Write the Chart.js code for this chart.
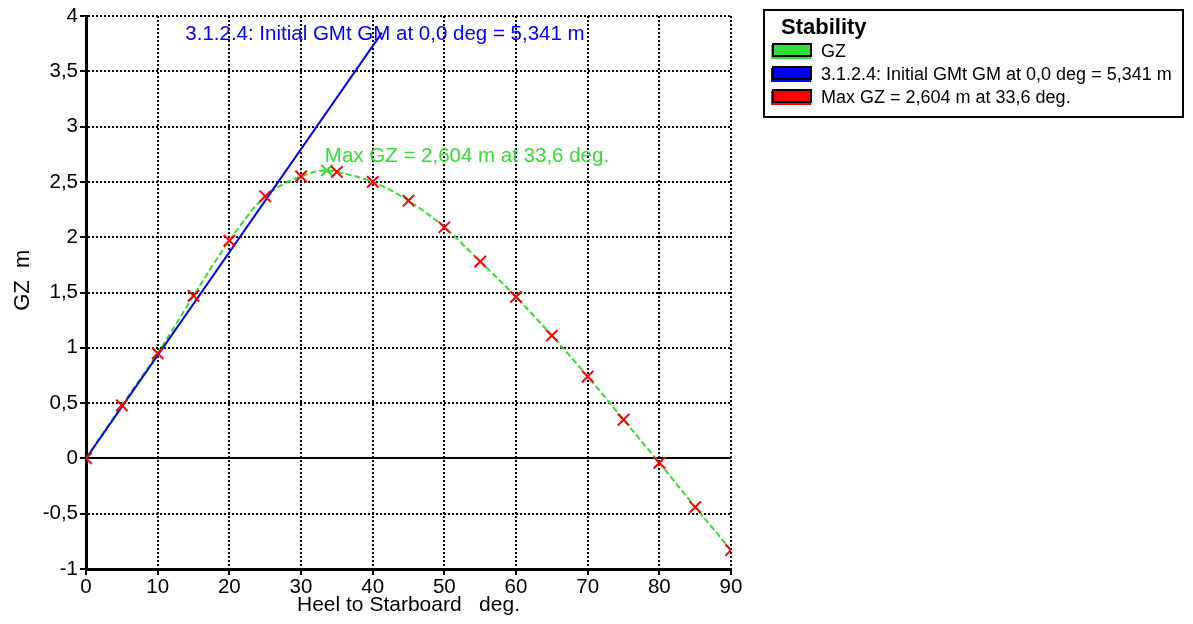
<!DOCTYPE html>
<html>
<head>
<meta charset="utf-8">
<script src="https://cdn.jsdelivr.net/npm/chart.js@4.4.0/dist/chart.umd.min.js"></script>
<style>
html, body { margin: 0; padding: 0; background: #fff; }
</style>
</head>
<body>
<canvas id="myChart" width="1193" height="624"></canvas>
<script>
const heel = [0, 5, 10, 15, 20, 25, 30, 35, 40, 45, 50, 55, 60, 65, 70, 75, 80, 85, 90];
const gz = [0, 0.48, 0.95, 1.47, 1.97, 2.37, 2.55, 2.59, 2.50, 2.33, 2.09, 1.78, 1.46, 1.11, 0.74, 0.35, -0.04, -0.44, -0.83];

// max GZ point
const maxHeel = 33.6;
const maxGZ = 2.604;

// initial GM tangent line (GM = 5,341 m per radian)
const gmX = [0, 41.3];
const gmY = [0, 3.85];

const gmLabel = '3.1.2.4: Initial GMt GM at 0,0 deg = 5,341 m';
const maxLabel = 'Max GZ = 2,604 m at 33,6 deg.';

const legendTitle = 'Stability';
const legendLabels = ['GZ', gmLabel, maxLabel];
const legendColors = ['#33dd33', '#0000ff', '#ff0000'];

const GREEN = '#33dd33';
const BLUE = '#0000ff';
const RED = '#ff0000';

Chart.defaults.font.family = "'Liberation Sans', Arial, sans-serif";
Chart.defaults.color = '#000';

// GZ curve also passes through the max point
const curve = heel.map((h, i) => ({x: h, y: gz[i]}));
curve.push({x: maxHeel, y: maxGZ});
curve.sort((a, b) => a.x - b.x);

const comma = v => String(v).replace('.', ',');

// text labels on the plot + the boxed legend
const labelsPlugin = {
  id: 'labels',
  afterDatasetsDraw(chart) {
    const ctx = chart.ctx;
    const xs = chart.scales.x, ys = chart.scales.y;
    ctx.save();
    ctx.font = "20.5px 'Liberation Sans', Arial, sans-serif";
    ctx.textBaseline = 'alphabetic';
    // blue label centred over the end of the GM line
    ctx.fillStyle = BLUE;
    ctx.textAlign = 'center';
    ctx.fillText(gmLabel, xs.getPixelForValue(gmX[1]) + 3, ys.getPixelForValue(gmY[1]) + 7);
    // green label starting at the max point
    ctx.fillStyle = GREEN;
    ctx.textAlign = 'left';
    ctx.fillText(maxLabel, xs.getPixelForValue(maxHeel) - 2, ys.getPixelForValue(maxGZ) - 8);
    ctx.restore();
  },
  afterDraw(chart) {
    const ctx = chart.ctx;
    ctx.save();
    ctx.strokeStyle = '#000';
    ctx.lineWidth = 2;
    ctx.strokeRect(764, 10, 419, 107);
    ctx.fillStyle = '#000';
    ctx.font = "bold 22px 'Liberation Sans', Arial, sans-serif";
    ctx.textAlign = 'left';
    ctx.fillText(legendTitle, 781, 34);
    ctx.font = "18px 'Liberation Sans', Arial, sans-serif";
    legendLabels.forEach((t, i) => {
      const y = 43 + i * 23;
      ctx.fillStyle = legendColors[i];
      ctx.fillRect(771, y + 2, 40, 14);
      ctx.fillRect(772, y, 40, 14);
      ctx.strokeStyle = '#000';
      ctx.lineWidth = 2;
      ctx.strokeRect(773, y + 1, 38, 12);
      ctx.fillStyle = '#000';
      ctx.fillText(t, 821, y + 14);
    });
    ctx.restore();
  }
};

new Chart(document.getElementById('myChart'), {
  type: 'scatter',
  data: {
    datasets: [
      {
        // red markers at every 5 deg
        data: heel.map((h, i) => ({x: h, y: gz[i]})),
        showLine: false,
        pointStyle: 'crossRot',
        pointRadius: 8,
        pointBorderWidth: 2,
        pointBorderColor: RED,
        pointBackgroundColor: RED
      },
      {
        data: [{x: maxHeel, y: maxGZ}],
        showLine: false,
        pointStyle: 'crossRot',
        pointRadius: 8,
        pointBorderWidth: 2,
        pointBorderColor: GREEN
      },
      {
        data: gmX.map((x, i) => ({x: x, y: gmY[i]})),
        showLine: true,
        borderColor: BLUE,
        borderWidth: 2,
        pointRadius: 0
      },
      {
        data: curve,
        showLine: true,
        borderColor: GREEN,
        borderWidth: 2,
        borderDash: [6, 3],
        cubicInterpolationMode: 'monotone',
        pointRadius: 0
      }
    ]
  },
  options: {
    responsive: false,
    animation: false,
    layout: { padding: { top: 16, right: 462, left: 0, bottom: 0 } },
    plugins: { legend: { display: false }, tooltip: { enabled: false } },
    scales: {
      x: {
        type: 'linear',
        min: 0, max: 90,
        afterFit: s => { s.height = 55; },
        ticks: { stepSize: 10, font: { size: 20.5 }, padding: 0, maxRotation: 0 },
        grid: { color: '#000', lineWidth: 2, tickLength: 6, tickWidth: 2 },
        border: { color: '#000', width: 3, dash: [2, 2] },
        title: { display: true, text: 'Heel to Starboard   deg.', font: { size: 21 }, padding: { top: 0, bottom: 6 } }
      },
      y: {
        min: -1, max: 4,
        afterFit: s => { s.width = 86; },
        ticks: { stepSize: 0.5, font: { size: 20.5 }, padding: 2, callback: v => comma(v) },
        grid: { color: '#000', lineWidth: 2, tickLength: 6, tickWidth: 2 },
        border: { color: '#000', width: 3, dash: c => (c.tick && c.tick.value === 0 ? [] : [2, 2]) },
        // leading spaces nudge the title up a little, as in the original
        title: { display: true, text: '    GZ  m', font: { size: 22 }, padding: { top: 10, bottom: 0 } }
      }
    }
  },
  plugins: [labelsPlugin]
});
</script>
</body>
</html>
